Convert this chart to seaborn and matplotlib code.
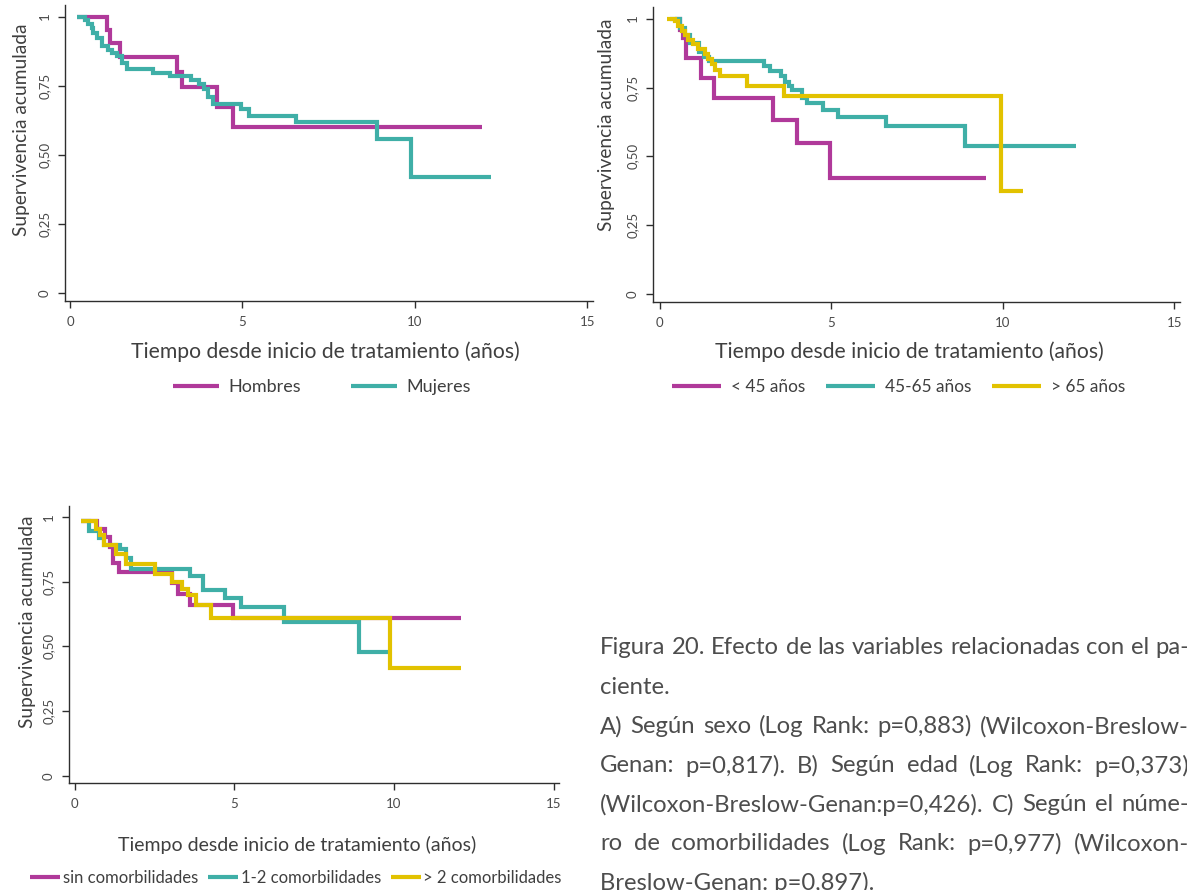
import numpy as np
import pandas as pd
import matplotlib
matplotlib.use("Agg")
import matplotlib.pyplot as plt
import seaborn as sns
from matplotlib.lines import Line2D

sns.set_theme(style="white")
plt.rcParams["font.family"] = ["Lato", "DejaVu Sans"]

W, H, DPI = 1187, 890, 100

MAGENTA = "#B0399A"
TEAL = "#3FAFA7"
YELLOW = "#E2C200"
TEXT = "#3f3f3f"
AXIS = "#2e2e2e"

# ---- A) sexo: Kaplan-Meier step curves (time in years, survival) ----
sexo_grupos = ["Hombres", "Mujeres"]
t_hombres = [0.19, 1.06, 1.16, 1.45, 3.09, 3.25, 4.25, 4.72, 11.95]
s_hombres = [1.0, 0.952, 0.906, 0.855, 0.80, 0.745, 0.672, 0.60, 0.60]
t_mujeres = [0.19, 0.44, 0.53, 0.63, 0.68, 0.77, 0.92, 1.11, 1.21, 1.35, 1.5, 1.65,
             2.4, 2.9, 3.5, 3.75, 3.9, 4.0, 4.15, 4.95, 5.2, 6.55, 8.9, 9.9, 12.2]
s_mujeres = [1.0, 0.988, 0.974, 0.958, 0.94, 0.922, 0.892, 0.88, 0.868, 0.856, 0.832, 0.81,
             0.797, 0.785, 0.772, 0.755, 0.738, 0.71, 0.684, 0.666, 0.642, 0.618, 0.558, 0.42, 0.42]

# ---- B) edad ----
edad_grupos = ["< 45 años", "45-65 años", "> 65 años"]
t_menor45 = [0.45, 0.6, 0.68, 0.77, 1.2, 1.6, 3.3, 4.0, 4.98, 9.52]
s_menor45 = [1.0, 0.96, 0.93, 0.857, 0.786, 0.712, 0.633, 0.55, 0.42, 0.42]
t_45a65 = [0.3, 0.6, 0.75, 0.9, 1.15, 1.3, 1.45, 3.05, 3.23, 3.54, 3.65, 3.76, 3.87,
           4.15, 4.3, 4.76, 5.2, 6.59, 8.91, 12.15]
s_45a65 = [1.0, 0.966, 0.94, 0.91, 0.88, 0.86, 0.845, 0.827, 0.809, 0.79, 0.77, 0.755, 0.74,
           0.712, 0.694, 0.667, 0.643, 0.609, 0.539, 0.539]
t_mayor65 = [0.21, 0.45, 0.55, 0.65, 0.74, 0.84, 0.98, 1.13, 1.32, 1.42, 1.52, 1.62, 1.75,
             2.54, 3.62, 9.95, 10.6]
s_mayor65 = [1.0, 0.99, 0.972, 0.954, 0.942, 0.924, 0.906, 0.888, 0.87, 0.852, 0.834, 0.815,
             0.79, 0.757, 0.72, 0.373, 0.373]

# ---- C) comorbilidades ----
comor_grupos = ["sin comorbilidades", "1-2 comorbilidades", "> 2 comorbilidades"]
t_sin = [0.2, 0.7, 0.95, 1.1, 1.2, 1.38, 3.05, 3.24, 3.61, 4.95, 12.1]
s_sin = [0.985, 0.955, 0.923, 0.884, 0.82, 0.788, 0.745, 0.704, 0.659, 0.61, 0.61]
t_1a2 = [0.2, 0.45, 0.75, 0.9, 1.4, 1.6, 1.75, 3.6, 4.0, 4.7, 5.2, 6.55, 8.9, 9.9]
s_1a2 = [0.985, 0.946, 0.92, 0.89, 0.874, 0.84, 0.80, 0.771, 0.717, 0.688, 0.65, 0.593, 0.477, 0.477]
t_mas2 = [0.2, 0.65, 0.8, 0.9, 1.3, 1.6, 2.5, 3.05, 3.36, 3.53, 3.8, 4.25, 9.87, 12.1]
s_mas2 = [0.985, 0.955, 0.93, 0.89, 0.858, 0.817, 0.779, 0.75, 0.72, 0.697, 0.659, 0.61, 0.415, 0.415]

x_ticks = [0, 5, 10, 15]
y_ticks = [0, 0.25, 0.5, 0.75, 1]
y_ticklabels = ["0", "0,25", "0,50", "0,75", "1"]
x_label = "Tiempo desde inicio de tratamiento (años)"
y_label = "Supervivencia acumulada"

caption_lines = [
    "Figura 20. Efecto de las variables relacionadas con el pa-",
    "ciente.",
    "A) Según sexo (Log Rank: p=0,883) (Wilcoxon-Breslow-",
    "Genan: p=0,817). B) Según edad (Log Rank: p=0,373)",
    "(Wilcoxon-Breslow-Genan:p=0,426). C) Según el núme-",
    "ro de comorbilidades (Log Rank: p=0,977) (Wilcoxon-",
    "Breslow-Genan: p=0,897).",
]
caption_justified = [True, False, True, True, True, True, False]


def build(groups, times, survs):
    frames = [pd.DataFrame({"t": t, "s": s, "grupo": g}) for g, t, s in zip(groups, times, survs)]
    return pd.concat(frames, ignore_index=True)


df_sexo = build(sexo_grupos, [t_hombres, t_mujeres], [s_hombres, s_mujeres])
df_edad = build(edad_grupos, [t_menor45, t_45a65, t_mayor65], [s_menor45, s_45a65, s_mayor65])
df_comor = build(comor_grupos, [t_sin, t_1a2, t_mas2], [s_sin, s_1a2, s_mas2])

fig = plt.figure(figsize=(W / DPI, H / DPI), dpi=DPI)
fig.patch.set_facecolor("white")


def px_axes(left, top, right, bottom):
    return fig.add_axes([left / W, 1 - bottom / H, (right - left) / W, (bottom - top) / H])


def km_panel(ax, df, groups, colors, xlim, ylab_xy, xlab_xy, xlab_size, leg_xy, leg_kw):
    pal = dict(zip(groups, colors))
    sns.lineplot(data=df, x="t", y="s", hue="grupo", hue_order=groups, palette=pal,
                 estimator=None, drawstyle="steps-post", linewidth=3.0,
                 solid_joinstyle="miter", solid_capstyle="butt", legend=False, ax=ax)
    ax.set_xlim(*xlim)
    ax.set_ylim(-0.028, 1.042)
    for side in ["top", "right"]:
        ax.spines[side].set_visible(False)
    for side in ["left", "bottom"]:
        ax.spines[side].set_color(AXIS)
        ax.spines[side].set_linewidth(1.0)
    ax.set_xticks(x_ticks)
    ax.set_xticklabels([str(v) for v in x_ticks], fontsize=9.5, color="#4a4a4a")
    ax.set_yticks(y_ticks)
    ax.set_yticklabels(y_ticklabels, rotation=90, va="center", fontsize=9.5, color="#4a4a4a")
    ax.tick_params(axis="both", direction="out", length=5, width=1.0, color=AXIS,
                   left=True, bottom=True)
    ax.tick_params(axis="y", pad=5)
    ax.tick_params(axis="x", pad=6)
    ax.set_ylabel(y_label, fontsize=13.8, color=TEXT, va="center", ha="center")
    ax.yaxis.set_label_coords(ylab_xy[0] / W, 1 - ylab_xy[1] / H, transform=fig.transFigure)
    ax.set_xlabel(x_label, fontsize=xlab_size, color=TEXT, va="center", ha="center")
    ax.xaxis.set_label_coords(xlab_xy[0] / W, 1 - xlab_xy[1] / H, transform=fig.transFigure)
    ax.grid(False)
    handles = [Line2D([], [], color=c, lw=3.0, solid_capstyle="butt") for c in colors]
    leg = fig.legend(handles, groups, loc="center",
                     bbox_to_anchor=(leg_xy[0] / W, 1 - leg_xy[1] / H),
                     ncol=len(groups), frameon=False, **leg_kw)
    for t in leg.get_texts():
        t.set_color(TEXT)


axA = px_axes(65, 5, 593, 301)
km_panel(axA, df_sexo, sexo_grupos, [MAGENTA, TEAL], (-0.145, 15.17),
         (22, 130), (325, 352), 15.2, (322, 387),
         dict(fontsize=13, handlelength=2.55, handletextpad=0.55, columnspacing=2.75))

axB = px_axes(653, 7, 1180, 302)
km_panel(axB, df_edad, edad_grupos, [MAGENTA, TEAL, YELLOW], (-0.19, 15.17),
         (607, 125), (909, 352), 15.2, (899, 387),
         dict(fontsize=12.4, handlelength=2.85, handletextpad=0.58, columnspacing=1.2))

axC = px_axes(68.5, 506, 559, 783)
km_panel(axC, df_comor, comor_grupos, [MAGENTA, TEAL, YELLOW], (-0.2, 15.17),
         (28, 622), (297, 845), 14.0, (296, 878),
         dict(fontsize=12, handlelength=1.8, handletextpad=0.15, columnspacing=0.6))

# Caption block, justified between fixed margins
renderer = fig.canvas.get_renderer()
x_left, x_right = 600, 1189
probe = fig.text(0, 0, caption_lines[0], fontsize=10)
cap_size = 10 * (x_right - x_left) / probe.get_window_extent(renderer).width
probe.remove()
cap_kw = dict(fontsize=cap_size, color="#4d4d4d", va="center", ha="left")
space_w = fig.text(0, 0, "a a", **cap_kw)
sw = space_w.get_window_extent(renderer).width
aa = fig.text(0, 0, "aa", **cap_kw)
sw = sw - aa.get_window_extent(renderer).width
space_w.remove()
aa.remove()
for i, (line, just) in enumerate(zip(caption_lines, caption_justified)):
    y = 1 - (648 + i * 39.2) / H
    if not just:
        fig.text(x_left / W, y, line, **cap_kw)
        continue
    words = line.split(" ")
    items = [fig.text(0, y, w, **cap_kw) for w in words]
    widths = [it.get_window_extent(renderer).width for it in items]
    gap = max((x_right - x_left - sum(widths)) / (len(words) - 1), sw)
    x = x_left
    for it, w in zip(items, widths):
        it.set_x(x / W)
        x += w + gap

fig.savefig("out.png", dpi=DPI, facecolor="white")
